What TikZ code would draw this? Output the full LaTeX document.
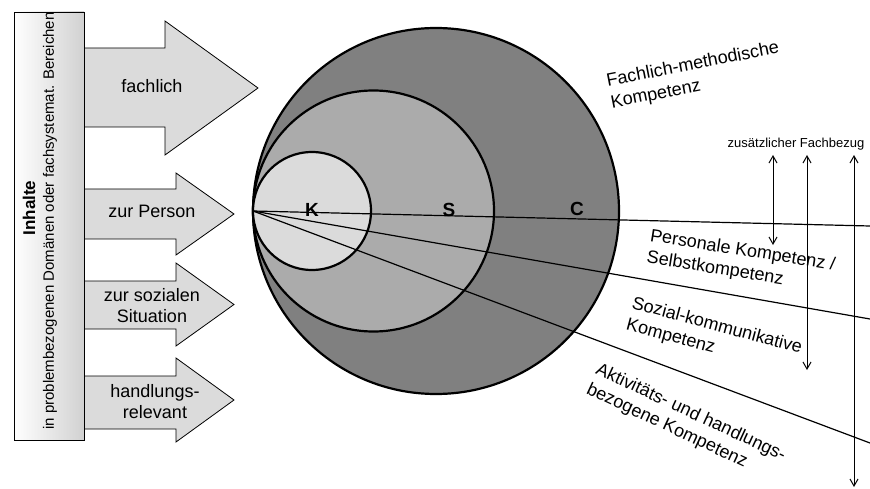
\documentclass[tikz,border=0pt]{standalone}
\usepackage{fontspec}
\setmainfont{Liberation Sans}
\usetikzlibrary{arrows.meta, positioning, calc}
\tikzset{
    pfeil/.style={draw=black, fill=black!14, line width=0.8pt},
    pfeiltext/.style={font=\fontsize{18}{21}\selectfont, align=center, inner sep=0pt},
    kreis/.style={draw, circle, line width=2.2pt, inner sep=0pt},
    strahl/.style={line width=1.2pt},
    ktext/.style={font=\fontsize{18}{22}\selectfont, align=left, inner sep=0pt},
    kbuchst/.style={font=\fontsize{19}{19}\selectfont\bfseries, inner sep=0pt},
    bezug/.style={{Straight Barb[length=7pt,width=8pt]}-{Straight Barb[length=7pt,width=8pt]},
        line width=1pt},
}
% #1/#2 Schaft oben/unten, #3/#4 Spitze oben/unten, #5 Ansatz, #6 Spitze
\newcommand{\grosspfeil}[6]{%
    \draw[pfeil] (80,#1) -- (#5,#1) -- (#5,#3) -- (#6,{(#3+#4)/2})
        -- (#5,#4) -- (#5,#2) -- (80,#2) -- cycle;}

\begin{document}
\begin{tikzpicture}[x=1pt, y=-1pt]
    \useasboundingbox (0,0) rectangle (870,489);

    % Pfeile links
    \grosspfeil{48}{127}{21}{155}{165}{258}
    \grosspfeil{189}{239}{173}{255}{176}{234}
    \grosspfeil{281}{329}{263}{346}{176}{234}
    \grosspfeil{376}{429}{358}{442}{176}{234}

    \node[pfeiltext] (fach) at (152,86) {fachlich};
    \node[pfeiltext] (pers) at (152,211) {zur Person};
    \node[pfeiltext] (sozi) at (152,306) {zur sozialen\\Situation};
    \node[pfeiltext] (hand) at (155,402) {handlungs-\\relevant};

    % Balken
    \draw[line width=0.8pt, left color=white, right color=black!18] (14,12) rectangle (84,440);
    \node[rotate=90, font=\fontsize{17}{17}\selectfont\bfseries, inner sep=0pt] (inh) at (29,208) {Inhalte};
    \node[rotate=90, font=\fontsize{15}{15}\selectfont, inner sep=0pt] (ber) at (50,221)
        {in problembezogenen Domänen oder fachsystemat. Bereichen};

    % Kreise
    \node[kreis, fill=black!50, minimum size=366pt] (C) at (436,211) {};
    \node[kreis, fill=black!33, minimum size=241pt] (S) at (373.5,211) {};
    \node[kreis, fill=black!14, minimum size=118pt] (K) at (312,211) {};

    \node[kbuchst] (lK) at (312,210) {K};
    \node[kbuchst] (lS) at (449,210) {S};
    \node[kbuchst] (lC) at (577,209) {C};

    % Strahlen
    \coordinate (apex) at (253,211);
    \coordinate (r1) at (870,226);
    \coordinate (r2) at (870,319);
    \coordinate (r3) at (870,443);
    \draw[strahl] (apex) -- (r1);
    \draw[strahl] (apex) -- (r2);
    \draw[strahl] (apex) -- (r3);

    % Kompetenzen
    \node[ktext, rotate=11] (fmk) at (695,76) {Fachlich-methodische\\Kompetenz};
    \node[ktext, rotate=-9] (pk) at (741,262) {Personale Kompetenz /\\Selbstkompetenz};
    \node[ktext, rotate=-15] (skk) at (714,337) {Sozial-kommunikative\\Kompetenz};
    \node[ktext, rotate=-25] (ahk) at (686,423) {Aktivitäts- und handlungs-\\bezogene Kompetenz};

    % zusaetzlicher Fachbezug
    \node[font=\fontsize{13}{13}\selectfont, inner sep=0pt] (zf) at (796,144) {zusätzlicher Fachbezug};
    \coordinate (b1o) at (773,155);
    \coordinate (b1u) at (773,245);
    \coordinate (b2o) at (807,155);
    \coordinate (b2u) at (807,370);
    \coordinate (b3o) at (854,155);
    \coordinate (b3u) at (854,487);
    \draw[bezug] (b1o) -- (b1u);
    \draw[bezug] (b2o) -- (b2u);
    \draw[bezug] (b3o) -- (b3u);
\end{tikzpicture}
\end{document}
